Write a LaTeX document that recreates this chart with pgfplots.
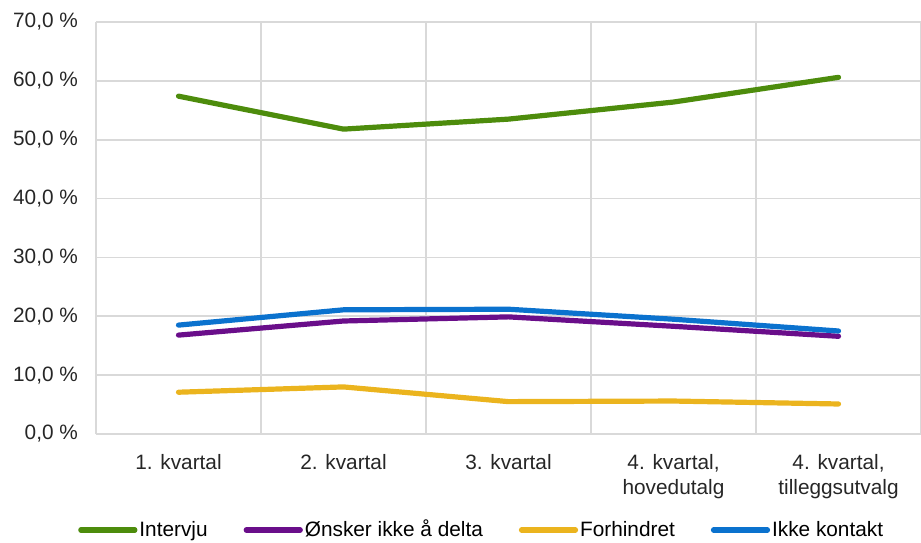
\documentclass[border=0pt]{standalone}
\usepackage{pgfplots}
\pgfplotsset{compat=1.18}
\usepackage{fontspec}
\setmainfont{Liberation Sans}
\definecolor{cgreen}{HTML}{4D8C0C}
\definecolor{cpurple}{HTML}{6A0E8A}
\definecolor{cyellow}{HTML}{EBB41E}
\definecolor{cblue}{HTML}{0B72CE}
\definecolor{cgrid}{HTML}{D9D9D9}
\begin{document}
\begin{tikzpicture}
\path[use as bounding box] (-48pt,-54pt) rectangle (412.5pt,217pt);
\begin{axis}[
  at={(0pt,0pt)}, anchor=south west,
  scale only axis,
  width=412.5pt, height=206pt,
  xmin=-0.5, xmax=4.5,
  ymin=0, ymax=70,
  axis x line=bottom, axis y line=left,
  axis line style={-, draw=cgrid, line width=0.9pt},
  xtick={0,1,2,3,4},
  xticklabels={{1. kvartal},{2. kvartal},{3. kvartal},{4. kvartal,\\hovedutalg},{4. kvartal,\\tilleggsutvalg}},
  minor xtick={0.5,1.5,2.5,3.5,4.5},
  xminorgrids=true,
  ytick={0,10,20,30,40,50,60,70},
  yticklabels={{0,0 \%},{10,0 \%},{20,0 \%},{30,0 \%},{40,0 \%},{50,0 \%},{60,0 \%},{70,0 \%}},
  ymajorgrids=true,
  grid style={draw=cgrid, line width=0.9pt},
  minor grid style={draw=cgrid, line width=0.9pt},
  major tick length=0pt, minor tick length=0pt,
  tick style={draw=none},
  ticklabel style={font=\fontsize{10.4}{12.5}\selectfont, text=black!85},
  xticklabel style={align=center, yshift=-6.5pt},
  yticklabel style={xshift=-5.5pt},
  clip=false,
  legend columns=4,
  legend style={
    at={(-0.022,-0.233)}, anchor=west,
    draw=none, fill=none,
    font=\fontsize{10.4}{12.5}\selectfont,
    inner sep=0pt,
    /tikz/every even column/.append style={column sep=17pt},
    nodes={inner sep=1pt},
  },
  legend image code/.code={\draw[#1, line width=2.6pt, line cap=round] (0pt,0pt) -- (27pt,0pt);},
  every axis plot/.append style={line width=2.6pt, line cap=round, line join=round, mark=none},
]
\addplot[cgreen] coordinates {(0,57.4) (1,51.8) (2,53.5) (3,56.4) (4,60.6)};
\addlegendentry{Intervju}
\addplot[cpurple] coordinates {(0,16.8) (1,19.2) (2,19.9) (3,18.3) (4,16.6)};
\addlegendentry{Ønsker ikke å delta}
\addplot[cyellow] coordinates {(0,7.1) (1,8.0) (2,5.5) (3,5.6) (4,5.1)};
\addlegendentry{Forhindret}
\addplot[cblue] coordinates {(0,18.5) (1,21.1) (2,21.2) (3,19.5) (4,17.5)};
\addlegendentry{Ikke kontakt}
\end{axis}
\end{tikzpicture}
\end{document}
